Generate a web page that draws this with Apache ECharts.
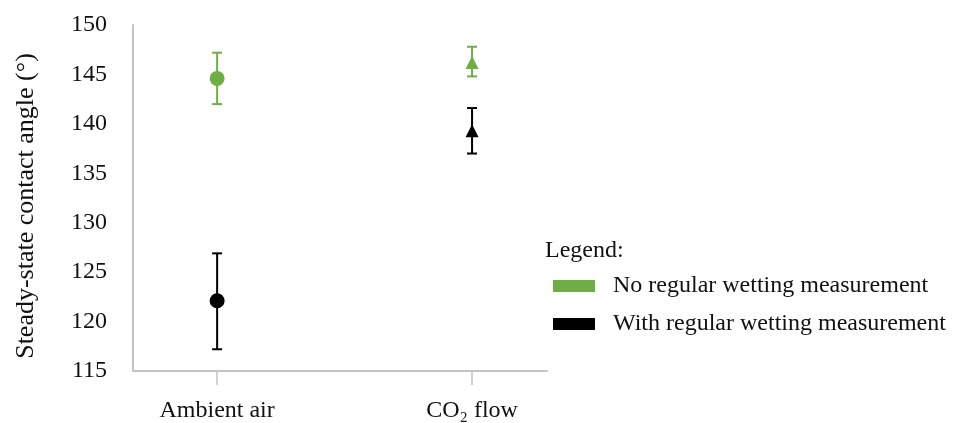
<!DOCTYPE html>
<html>
<head>
<meta charset="utf-8">
<script src="https://cdn.jsdelivr.net/npm/echarts@6/dist/echarts.min.js"></script>
<style>
  html, body { margin: 0; padding: 0; background: #fff; }
  #main { width: 963px; height: 423px; }
</style>
</head>
<body>
<div id="main"></div>
<script>
// categories on the x axis (placed at x = 1, 2)
var categories = ['Ambient air', 'CO\u2082 flow'];
var catPos = [1, 2];
var yTicks = [115, 120, 125, 130, 135, 140, 145, 150];

// No regular wetting measurement: mean, low, high
var noWetMean = [144.6, 146.2];
var noWetLow = [142.0, 144.8];
var noWetHigh = [147.2, 147.8];

// With regular wetting measurement: mean, low, high
var wetMean = [122.1, 139.3];
var wetLow = [117.2, 137.0];
var wetHigh = [126.9, 141.6];

var symbols = ['circle', 'triangle'];
var symbolSizes = [15, 13];

var GREEN = '#70AD47';
var BLACK = '#000000';
var FONT = 'Liberation Serif';

function points(mean) {
  return mean.map(function (v, i) {
    return { value: [catPos[i], v], symbol: symbols[i], symbolSize: symbolSizes[i] };
  });
}
function bars(low, high) {
  return low.map(function (v, i) { return [catPos[i], v, high[i]]; });
}
function errorBar(color) {
  return function (params, api) {
    var x = api.value(0);
    var lo = api.coord([x, api.value(1)]);
    var hi = api.coord([x, api.value(2)]);
    var half = 5;
    var style = { stroke: color, lineWidth: 2 };
    return {
      type: 'group',
      children: [
        { type: 'line', shape: { x1: lo[0], y1: lo[1], x2: hi[0], y2: hi[1] }, style: style },
        { type: 'line', shape: { x1: lo[0] - half, y1: lo[1], x2: lo[0] + half, y2: lo[1] }, style: style },
        { type: 'line', shape: { x1: hi[0] - half, y1: hi[1], x2: hi[0] + half, y2: hi[1] }, style: style }
      ]
    };
  };
}

var myChart = echarts.init(document.getElementById('main'));
myChart.setOption({
  animation: false,
  backgroundColor: '#ffffff',
  textStyle: { fontFamily: FONT },
  grid: { left: 133, right: 416, top: 25, bottom: 51 },
  graphic: [{
    type: 'text',
    left: 545,
    top: 239,
    style: { text: 'Legend:', font: '24px "' + FONT + '"', fill: '#111' }
  }],
  legend: {
    orient: 'vertical',
    left: 548,
    top: 269,
    icon: 'rect',
    itemWidth: 42,
    itemHeight: 12,
    itemGap: 14,
    selectedMode: false,
    textStyle: { fontFamily: FONT, fontSize: 24, color: '#111', padding: [0, 0, 0, 13] },
    data: [
      { name: 'No regular wetting measurement', itemStyle: { color: GREEN } },
      { name: 'With regular wetting measurement', itemStyle: { color: BLACK } }
    ]
  },
  xAxis: {
    type: 'value',
    min: 0.67,
    max: 2.294,
    splitLine: { show: false },
    axisLine: { lineStyle: { color: '#C4C4C4', width: 2 } },
    axisTick: { show: true, customValues: catPos, length: 14, lineStyle: { color: '#C4C4C4', width: 1.5 } },
    axisLabel: {
      customValues: catPos,
      margin: 28,
      fontFamily: FONT,
      fontSize: 24,
      color: '#111',
      formatter: function (v) {
        var i = catPos.indexOf(Math.round(v));
        return i >= 0 ? categories[i] : '';
      }
    }
  },
  yAxis: {
    type: 'value',
    min: yTicks[0],
    max: yTicks[yTicks.length - 1],
    interval: 5,
    name: 'Steady-state contact angle (\u00B0)',
    nameLocation: 'middle',
    nameGap: 94,
    nameTextStyle: { fontFamily: FONT, fontSize: 26, color: '#111', padding: [0, 16, 0, 0] },
    splitLine: { show: false },
    axisTick: { show: false },
    axisLine: { show: true, lineStyle: { color: '#C4C4C4', width: 2 } },
    axisLabel: { margin: 26, fontFamily: FONT, fontSize: 24, color: '#111' }
  },
  series: [
    {
      type: 'custom',
      renderItem: errorBar(GREEN),
      data: bars(noWetLow, noWetHigh),
      z: 2
    },
    {
      type: 'custom',
      renderItem: errorBar(BLACK),
      data: bars(wetLow, wetHigh),
      z: 2
    },
    {
      name: 'No regular wetting measurement',
      type: 'scatter',
      itemStyle: { color: GREEN, opacity: 1 },
      data: points(noWetMean),
      z: 5
    },
    {
      name: 'With regular wetting measurement',
      type: 'scatter',
      itemStyle: { color: BLACK, opacity: 1 },
      data: points(wetMean),
      z: 5
    }
  ]
});
</script>
</body>
</html>
